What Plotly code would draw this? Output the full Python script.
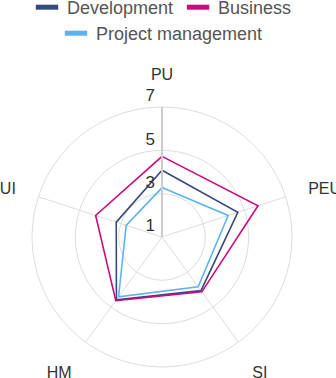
import plotly.graph_objects as go

categories = ["PU", "PEU", "SI", "HM", "UI"]
development = [4.08, 4.68, 4.06, 4.58, 3.22]
business = [4.72, 5.66, 4.13, 4.63, 4.22]
project_mgmt = [3.28, 4.21, 3.84, 4.41, 2.74]
radial_ticks = [1, 3, 5, 7]

series = [
    ("Development", development, "#34497e", "legend"),
    ("Business", business, "#cc0a7a", "legend"),
    ("Project management", project_mgmt, "#5ab4ef", "legend2"),
]

W = 336
OFF = 11            # figure is drawn 11px above the window top (legend clipped like the reference)
H = 378 + OFF
fig = go.Figure()
for name, vals, color, lg in series:
    fig.add_trace(go.Scatterpolar(
        r=vals + vals[:1],
        theta=categories + categories[:1],
        mode="lines",
        name=name,
        showlegend=False,
        line=dict(color=color, width=1.6),
    ))
# legend-only entries with rectangular swatches
for name, vals, color, lg in series:
    fig.add_trace(go.Scatterpolar(
        r=[None], theta=[categories[0]],
        mode="markers",
        name=name,
        legend=lg,
        showlegend=True,
        marker=dict(symbol="line-ew", size=17, color=color,
                    line=dict(width=6, color=color)),
    ))

legend_common = dict(
    orientation="h", xanchor="center", yanchor="top",
    font=dict(size=18, color="#555"),
    bgcolor="rgba(0,0,0,0)",
)

fig.update_layout(
    width=W, height=H,
    margin=dict(l=0, r=0, t=0, b=0),
    paper_bgcolor="white",
    plot_bgcolor="white",
    font=dict(family="Liberation Sans, Arial, sans-serif", size=16, color="#333"),
    showlegend=True,
    legend=dict(x=162/W, y=1.0, **legend_common),
    legend2=dict(x=162/W, y=1 - 26/H, **legend_common),
    polar=dict(
        domain=dict(x=[32/W, 292/W], y=[(H - 367 - OFF)/H, (H - 107 - OFF)/H]),
        bgcolor="white",
        radialaxis=dict(
            range=[1, 7],
            tickvals=radial_ticks,
            ticktext=[str(v) + "<br> " for v in radial_ticks],
            angle=90,
            side="counterclockwise",
            showline=True,
            linecolor="#cccccc",
            linewidth=2,
            gridcolor="#dddddd",
            gridwidth=1,
            ticks="",
            tickangle=90,
            tickfont=dict(size=17, color="#333"),
        ),
        angularaxis=dict(
            rotation=90,
            direction="clockwise",
            showline=True,
            linecolor="#dddddd",
            linewidth=1,
            gridcolor="#dddddd",
            gridwidth=1,
            ticks="outside",
            ticklen=20,
            tickcolor="rgba(0,0,0,0)",
            tickfont=dict(size=16, color="#333"),
        ),
    ),
)

fig.write_html("out.html", config={"displayModeBar": False},
               post_script="document.body.style.margin='-%dpx 0 0 0';" % OFF)
